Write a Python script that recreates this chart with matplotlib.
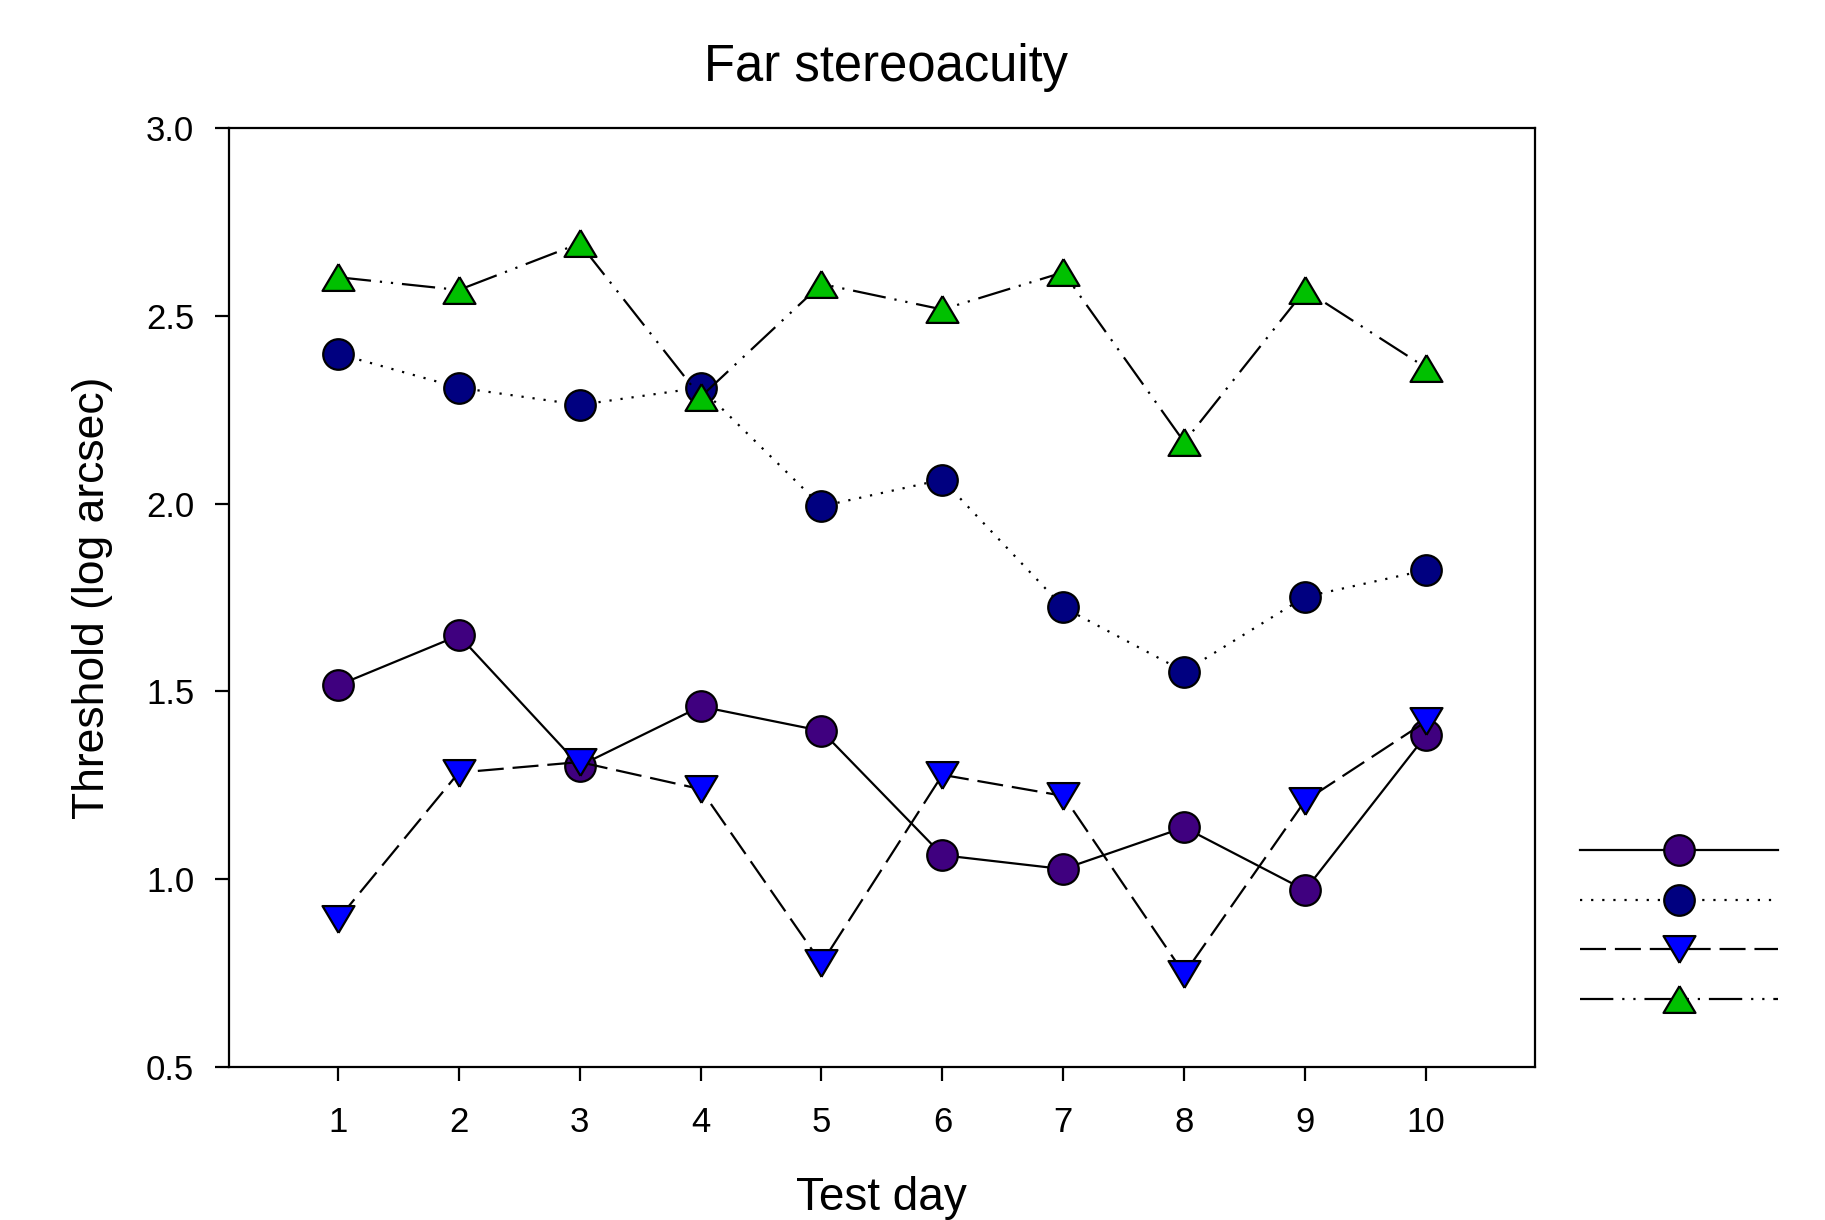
import matplotlib
matplotlib.use("Agg")
import matplotlib.pyplot as plt

plt.rcParams['font.family'] = ['Liberation Sans', 'DejaVu Sans']

days = [1, 2, 3, 4, 5, 6, 7, 8, 9, 10]
series_a = [1.516, 1.649, 1.302, 1.460, 1.395, 1.064, 1.027, 1.138, 0.971, 1.383]
series_b = [2.399, 2.309, 2.263, 2.309, 1.993, 2.064, 1.724, 1.553, 1.752, 1.823]
series_c = [0.893, 1.284, 1.312, 1.240, 0.776, 1.278, 1.222, 0.748, 1.209, 1.420]
series_d = [2.603, 2.569, 2.693, 2.284, 2.585, 2.517, 2.616, 2.164, 2.569, 2.362]

xticks = [1, 2, 3, 4, 5, 6, 7, 8, 9, 10]
yticks = [0.5, 1.0, 1.5, 2.0, 2.5, 3.0]
ytick_labels = ["0.5", "1.0", "1.5", "2.0", "2.5", "3.0"]

fig = plt.figure(figsize=(18.25, 12.2), dpi=100)
ax = fig.add_axes([0.1255, 0.1254, 0.7155, 0.7696])

tri_down = [(0, -0.84), (-1, 0.84), (1, 0.84), (0, -0.84)]
tri_up = [(0, 0.84), (-1, -0.84), (1, -0.84), (0, 0.84)]

lw = 1.6
mew = 1.6
common = dict(color='black', lw=lw, mec='black', mew=mew)
styles = [
    dict(y=series_a, marker='o', ms=22, mfc='#3F007F', ls='-'),
    dict(y=series_b, marker='o', ms=22, mfc='#000080', ls=(0, (1, 4.0))),
    dict(y=series_c, marker=tri_down, ms=23, mfc='#0000FF', ls=(0, (11.7, 4.0))),
    dict(y=series_d, marker=tri_up, ms=23, mfc='#00C000', ls=(0, (15, 4.0, 1, 4.0, 1, 4.0))),
]

handles = []
for st in styles:
    y = st.pop('y')
    ln, = ax.plot(days, y, **common, **st, zorder=3)
    handles.append(ln)

ax.set_xlim(0.1, 10.9)
ax.set_ylim(0.5, 3.0)
ax.set_xticks(xticks)
ax.set_xticklabels([str(t) for t in xticks])
ax.set_yticks(yticks)
ax.set_yticklabels(ytick_labels)

for sp in ax.spines.values():
    sp.set_linewidth(1.6)
ax.tick_params(axis='both', direction='out', length=10, width=1.6, labelsize=25)
ax.tick_params(axis='x', pad=18)
ax.tick_params(axis='y', pad=15)

ax.set_title("Far stereoacuity", fontsize=36.5, pad=34, x=0.503)
ax.set_xlabel("Test day", fontsize=33, labelpad=27)
ax.set_ylabel("Threshold (log arcsec)", fontsize=32, labelpad=24)

fig.legend(handles, ['', '', '', ''], loc='center left',
           bbox_to_anchor=(0.866, 0.2400), frameon=False,
           fontsize=20, handlelength=7.1, handletextpad=0, numpoints=1,
           borderpad=0, borderaxespad=0, labelspacing=0.85)

fig.savefig("out.png", dpi=100)
